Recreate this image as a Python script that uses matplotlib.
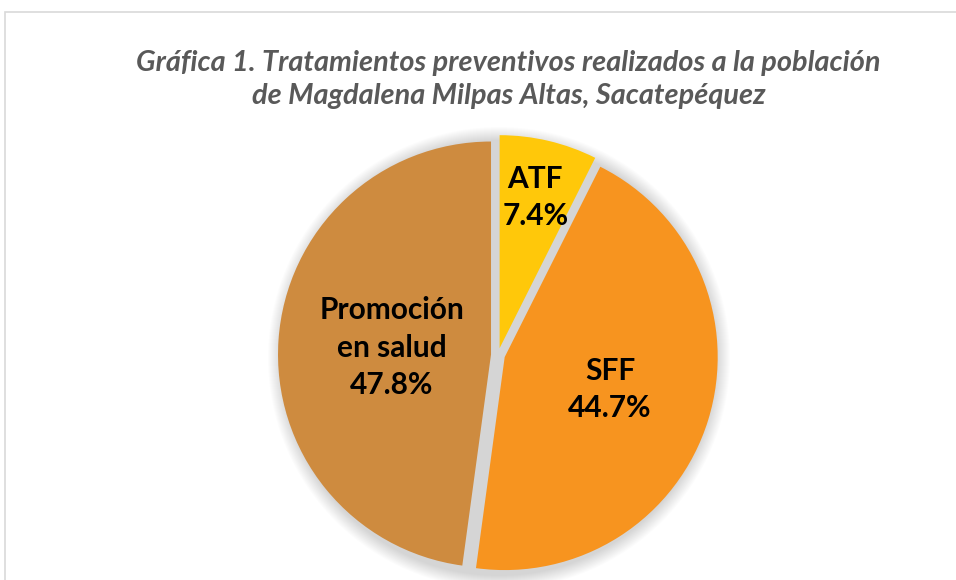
import numpy as np
import matplotlib
matplotlib.use("Agg")
from matplotlib import pyplot as plt
from matplotlib.patches import Circle, Rectangle

title = "Gráfica 1. Tratamientos preventivos realizados a la población\nde Magdalena Milpas Altas, Sacatepéquez"
labels = ["ATF", "SFF", "Promoción\nen salud"]
shares = [7.4, 44.7, 47.8]
colors = ["#FFC80A", "#F7941F", "#CE8B3F"]
label_dist = [0.76, 0.55, 0.50]

W, H = 956, 580
fig = plt.figure(figsize=(W / 100, H / 100), dpi=100)
ax = fig.add_axes([0, 0, 1, 1])

cx, cy, r = 498, 225, 213

# soft shadow around the pie
for k in range(14):
    ax.add_patch(Circle((cx + 1, cy - 3), r + 18 - k, facecolor="#000000",
                        edgecolor="none", alpha=0.012, zorder=1))

# explode is in data units here (pixels)
wedges, _ = ax.pie(shares, colors=colors, startangle=90, counterclock=False,
                   center=(cx, cy), radius=r, explode=[7, 7, 7],
                   wedgeprops=dict(edgecolor="none", zorder=2), frame=True)
ax.set_xlim(0, W)
ax.set_ylim(0, H)
ax.set_aspect("equal")
ax.axis("off")

# chart area border (cropped on the right and bottom)
ax.add_patch(Rectangle((5, -20), W + 40, H - 12 + 20, fill=False,
                       edgecolor="#D9D9D9", linewidth=1.2))

for w, lab, val, d in zip(wedges, labels, shares, label_dist):
    mid = np.deg2rad((w.theta1 + w.theta2) / 2)
    x = cx + d * r * np.cos(mid)
    y = cy + d * r * np.sin(mid)
    ax.text(x, y, f"{lab}\n{val:.1f}%", ha="center", va="center",
            fontsize=21.5, fontweight="bold", family="Lato",
            linespacing=1.42, color="black", zorder=3)

fig.text(0.532, 0.863, title, ha="center", va="center", fontsize=20.8,
         fontweight="bold", style="italic", family="Lato",
         color="#595959", linespacing=1.35)

fig.savefig("out.png", dpi=100)
